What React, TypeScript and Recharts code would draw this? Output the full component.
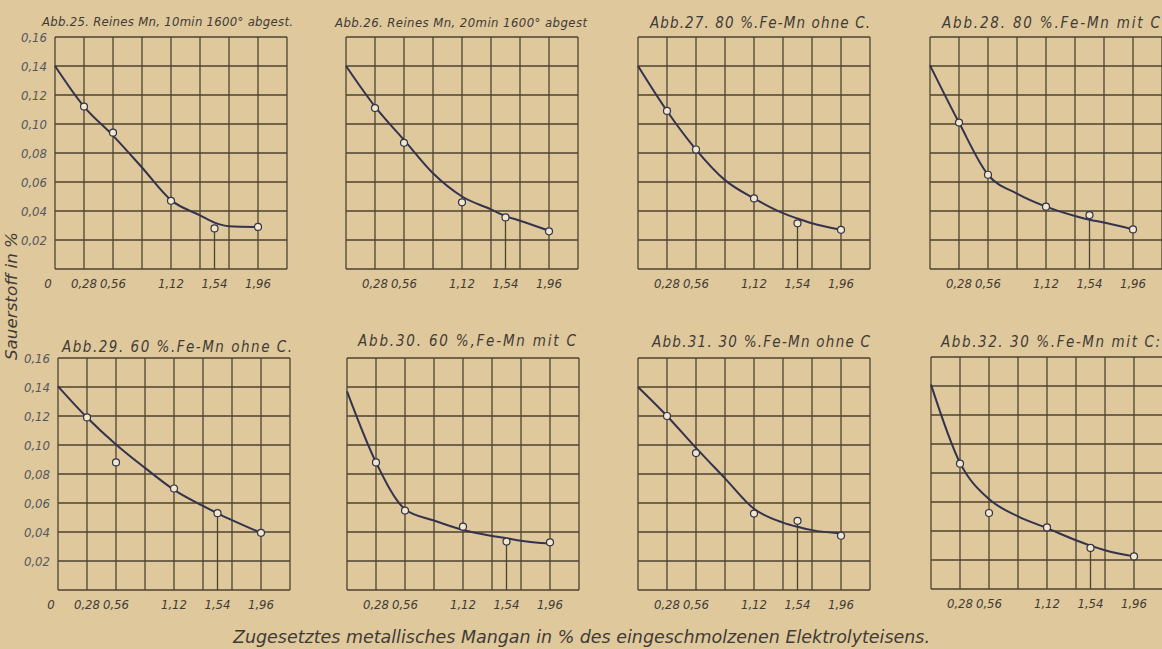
import React from "react";
import {
  ComposedChart,
  Line,
  Scatter,
  XAxis,
  YAxis,
  ReferenceLine,
} from "recharts";

// grid and ticks (x = % Mn added, y = % oxygen)
const gridX = [0, 0.28, 0.56, 0.84, 1.12, 1.4, 1.68, 1.96, 2.24];
const gridY = [0, 0.02, 0.04, 0.06, 0.08, 0.1, 0.12, 0.14, 0.16];
const tickX = [0.28, 0.56, 1.12, 1.54, 1.96];
const tickXZero = [0, 0.28, 0.56, 1.12, 1.54, 1.96];
const tickY = [0.02, 0.04, 0.06, 0.08, 0.1, 0.12, 0.14, 0.16];

const measuredX = [0.28, 0.56, 1.12, 1.54, 1.96];
const curveX = [0, 0.28, 0.56, 0.84, 1.12, 1.4, 1.54, 1.68, 1.96];

// measured points (open circles) and the drawn curve, per figure
const abb25Points = [0.112, 0.094, 0.047, 0.028, 0.029];
const abb25Curve = [0.14, 0.112, 0.092, 0.07, 0.0475, 0.037, 0.032, 0.0295, 0.029];

const abb26Points = [0.111, 0.087, 0.046, 0.0356, 0.026];
const abb26Curve = [0.14, 0.112, 0.089, 0.066, 0.05, 0.0411, 0.0365, 0.0333, 0.0264];

const abb27Points = [0.109, 0.0824, 0.0487, 0.0315, 0.027];
const abb27Curve = [0.14, 0.109, 0.0824, 0.0613, 0.0487, 0.0385, 0.0348, 0.0315, 0.027];

const abb28Points = [0.101, 0.065, 0.043, 0.0372, 0.0273];
const abb28Curve = [0.1405, 0.101, 0.065, 0.052, 0.043, 0.0365, 0.034, 0.032, 0.0273];

const abb29Points = [0.119, 0.088, 0.07, 0.053, 0.0394];
const abb29Curve = [0.1405, 0.119, 0.1004, 0.0842, 0.0691, 0.058, 0.0529, 0.0482, 0.0394];

const abb30Points = [0.088, 0.0548, 0.0437, 0.0334, 0.0329];
const abb30Curve = [0.137, 0.088, 0.0557, 0.0479, 0.0414, 0.0373, 0.0357, 0.034, 0.032];

const abb31Points = [0.12, 0.0944, 0.0527, 0.0477, 0.0374];
const abb31Curve = [0.14, 0.12, 0.098, 0.077, 0.056, 0.0465, 0.0436, 0.0413, 0.039];

const abb32Points = [0.0864, 0.0524, 0.0425, 0.0283, 0.0225];
const abb32Curve = [0.141, 0.087, 0.062, 0.0501, 0.042, 0.0336, 0.0299, 0.0267, 0.0225];

const BG = "#dfc89b";
const GRID = "#4d4331";
const CURVE = "#33334e";
const INK = "#3f3b36";
const FONT = "'DejaVu Sans Condensed', 'Liberation Sans Narrow', 'DejaVu Sans', sans-serif";

const PLOT = 232;
const ML = 50;
const MT = 40;

const panels = [
  { title: "Abb.25. Reines Mn, 10min 1600° abgest.", points: abb25Points, curve: abb25Curve, left: 55, top: 37, showY: true, tx: 42, tw: 251, ty: 26, fs: 13 },
  { title: "Abb.26. Reines Mn, 20min 1600° abgest", points: abb26Points, curve: abb26Curve, left: 346, top: 37, showY: false, tx: 335, tw: 252, ty: 27, fs: 13 },
  { title: "Abb.27. 80 %.Fe-Mn ohne C.", points: abb27Points, curve: abb27Curve, left: 638, top: 37, showY: false, tx: 650, tw: 220, ty: 28, fs: 15 },
  { title: "Abb.28. 80 %.Fe-Mn mit C", points: abb28Points, curve: abb28Curve, left: 930, top: 37, showY: false, tx: 942, tw: 218, ty: 28, fs: 15 },
  { title: "Abb.29. 60 %.Fe-Mn ohne C.", points: abb29Points, curve: abb29Curve, left: 58, top: 358, showY: true, tx: 62, tw: 230, ty: 352, fs: 15 },
  { title: "Abb.30. 60 %,Fe-Mn mit C", points: abb30Points, curve: abb30Curve, left: 347, top: 358, showY: false, tx: 358, tw: 218, ty: 346, fs: 15 },
  { title: "Abb.31. 30 %.Fe-Mn ohne C", points: abb31Points, curve: abb31Curve, left: 638, top: 358, showY: false, tx: 652, tw: 218, ty: 347, fs: 15 },
  { title: "Abb.32. 30 %.Fe-Mn mit C:", points: abb32Points, curve: abb32Curve, left: 931, top: 357, showY: false, tx: 941, tw: 219, ty: 347, fs: 15 },
];

const fmt = (v: number) => (v === 0 ? "0" : v.toFixed(2).replace(".", ","));

function XTick(props: any) {
  const { x, y, payload } = props;
  const shift = payload.value === 0 ? -7 : 0;
  return (
    <text
      x={x + shift}
      y={y + 11}
      textAnchor="middle"
      fontSize={13}
      fontStyle="italic"
      fontFamily={FONT}
      fill={INK}
    >
      {fmt(payload.value)}
    </text>
  );
}

function Dot(props: any) {
  const { cx, cy } = props;
  return <circle cx={cx} cy={cy} r={3.5} fill="#f1e7cb" stroke={CURVE} strokeWidth={1.2} />;
}

function Panel({ p }: { p: (typeof panels)[number] }) {
  const pts = measuredX.map((x, i) => ({ x, y: p.points[i] }));
  const crv = curveX.map((x, i) => ({ x, y: p.curve[i] }));
  return (
    <div style={{ position: "absolute", left: p.left - ML, top: p.top - MT }}>
      <ComposedChart
        width={ML + PLOT + 10}
        height={MT + PLOT + 30}
        margin={{ top: MT, right: 10, left: 0, bottom: 0 }}
      >
        <XAxis
          type="number"
          dataKey="x"
          domain={[0, 2.24]}
          ticks={p.showY ? tickXZero : tickX}
          interval={0}
          axisLine={false}
          tickLine={false}
          height={30}
          tick={(t: any) => <XTick {...t} />}
        />
        <YAxis
          type="number"
          dataKey="y"
          domain={[0, 0.16]}
          ticks={tickY}
          interval={0}
          width={ML}
          axisLine={false}
          tickLine={false}
          tickFormatter={fmt}
          tick={
            p.showY
              ? { fontSize: 13, fontStyle: "italic", fontFamily: FONT, fill: "#55575e" }
              : false
          }
        />
        {gridX.map((v) => (
          <ReferenceLine key={"gx" + v} x={v} stroke={GRID} strokeWidth={1.3} />
        ))}
        {gridY.map((v) => (
          <ReferenceLine key={"gy" + v} y={v} stroke={GRID} strokeWidth={1.3} />
        ))}
        <ReferenceLine
          segment={[
            { x: measuredX[3], y: 0 },
            { x: measuredX[3], y: p.points[3] },
          ]}
          stroke={GRID}
          strokeWidth={1.3}
        />
        <Line
          data={crv}
          dataKey="y"
          type="monotone"
          stroke={CURVE}
          strokeWidth={2}
          dot={false}
          activeDot={false}
          isAnimationActive={false}
        />
        <Scatter data={pts} dataKey="y" shape={(s: any) => <Dot {...s} />} isAnimationActive={false} />
      </ComposedChart>
    </div>
  );
}

export default function App() {
  return (
    <div
      style={{
        position: "absolute",
        left: 0,
        top: 0,
        width: 1162,
        height: 649,
        overflow: "hidden",
        background: BG,
      }}
    >
      {panels.map((p) => (
        <Panel key={p.title} p={p} />
      ))}
      <svg width={1162} height={649} style={{ position: "absolute", left: 0, top: 0, pointerEvents: "none" }}>
        {panels.map((p) => (
          <text
            key={p.title}
            x={p.tx}
            y={p.ty}
            fontSize={p.fs}
            fontStyle="italic"
            fontFamily={FONT}
            fill={INK}
            textLength={p.tw}
            lengthAdjust="spacing"
          >
            {p.title}
          </text>
        ))}
        <text
          transform="translate(17, 296) rotate(-90)"
          textAnchor="middle"
          fontSize={15}
          fontStyle="italic"
          fontFamily={FONT}
          fill={INK}
          textLength={128}
          lengthAdjust="spacingAndGlyphs"
        >
          Sauerstoff in %
        </text>
        <text
          x={233}
          y={643}
          fontSize={18}
          fontStyle="italic"
          fontFamily={FONT}
          fill={INK}
          textLength={697}
          lengthAdjust="spacingAndGlyphs"
        >
          Zugesetztes metallisches Mangan in % des eingeschmolzenen Elektrolyteisens.
        </text>
      </svg>
    </div>
  );
}
